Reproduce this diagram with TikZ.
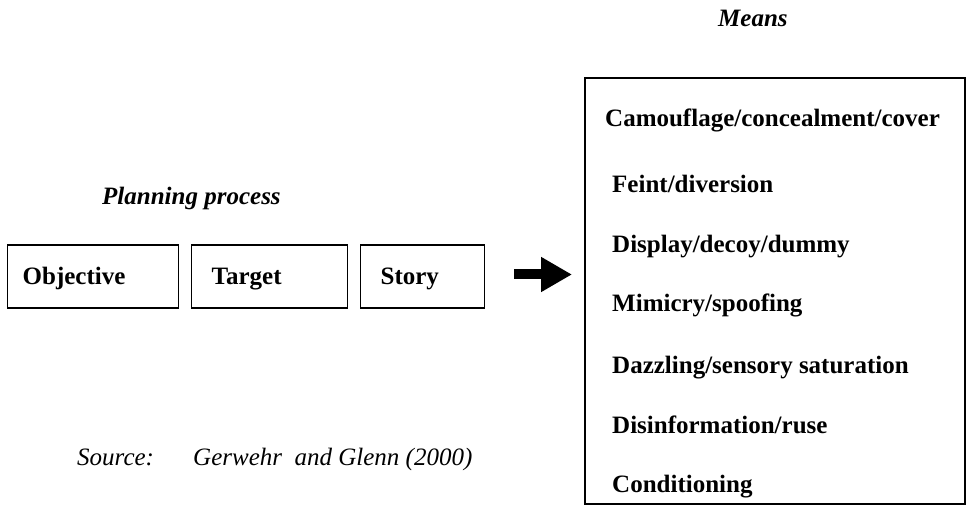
\documentclass[tikz,border=0pt]{standalone}
\usepackage{fontspec}
\setmainfont{Liberation Serif}
\usetikzlibrary{arrows.meta}
\begin{document}
\begin{tikzpicture}[x=1pt,y=-1pt,
  txt/.style={font=\fontsize{25}{30}\selectfont\bfseries, inner sep=0pt, anchor=base west},
  ttl/.style={font=\fontsize{25}{30}\selectfont\bfseries\itshape, inner sep=0pt, anchor=base west},
  src/.style={font=\fontsize{25}{30}\selectfont\itshape, inner sep=0pt, anchor=base west},
  pbox/.style={draw, line width=1.3pt, minimum height=63pt, text height=17pt, text depth=0pt,
    inner ysep=0pt, align=left, font=\fontsize{25}{30}\selectfont\bfseries},
  mbox/.style={draw, line width=2pt, minimum width=380pt, minimum height=426pt, inner sep=0pt}
]
\useasboundingbox (0,0) rectangle (967,505);

% titles
\node[ttl] (plan) at (102,205) {Planning process};
\node[ttl] (means) at (718,27) {Means};

% planning boxes
\node[pbox, inner xsep=15pt, text width=141pt, anchor=west] (obj) at (7,276.5) {Objective};
\node[pbox, inner xsep=20pt, text width=116pt, anchor=west] (tgt) at (191,276.5) {Target};
\node[pbox, inner xsep=20pt, text width=84pt, anchor=west] (sty) at (360,276.5) {Story};

% means box
\node[mbox] (mb) at (775,291) {};
\node[txt] (m1) at (605,127) {Camouflage/concealment/cover};
\node[txt] (m2) at (612,193) {Feint/diversion};
\node[txt] (m3) at (612,253) {Display/decoy/dummy};
\node[txt] (m4) at (612,312) {Mimicry/spoofing};
\node[txt] (m5) at (612,373) {Dazzling/sensory saturation};
\node[txt] (m6) at (612,433) {Disinformation/ruse};
\node[txt] (m7) at (612,492) {Conditioning};

% arrow
\coordinate (as) at ([xshift=29pt,yshift=2pt]sty.east);
\coordinate (ae) at ([xshift=-12pt]mb.west |- as);
\draw[line width=10pt, -{Triangle[length=31pt,width=33pt]}] (as) -- (ae);

% source
\node[src] (s1) at (77,465) {Source:};
\node[src] (s2) at (193,465) {Gerwehr\ \ and Glenn (2000)};
\end{tikzpicture}
\end{document}
